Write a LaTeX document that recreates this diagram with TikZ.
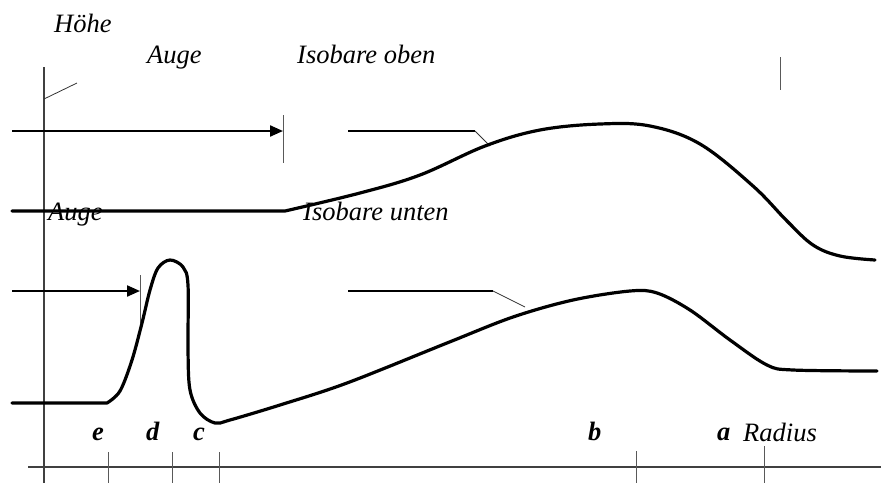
\documentclass[tikz,border=0pt]{standalone}
\usepackage{fontspec}
\setmainfont{Liberation Serif}
\usetikzlibrary{arrows.meta,positioning}

\tikzset{
  lbl/.style={anchor=base west, inner sep=0, font=\fontsize{26.5}{30}\selectfont\itshape},
  mark lbl/.style={lbl, font=\fontsize{26.5}{30}\selectfont\bfseries\itshape},
  axis line/.style={draw=black!75, line width=1.1pt},
  tick line/.style={draw=black!65, line width=1pt},
  eye arrow/.style={-{Triangle[length=13pt,width=11pt]}, line width=2.2pt},
  iso curve/.style={line width=3.2pt, line join=round, line cap=round},
  lead/.style={line width=2.2pt},
  pointer/.style={draw=black!80, line width=0.8pt},
}

\begin{document}
\begin{tikzpicture}[x=1pt, y=-1pt]
    \useasboundingbox (0,0) rectangle (881,483);

    % ======== AXES ========
    \coordinate (ytop) at (44,67);
    \coordinate (ybot) at (44,483);
    \coordinate (xl) at (28,467);
    \coordinate (xr) at (881,467);
    \draw[axis line] (ytop) -- (ybot);
    \draw[axis line] (xl) -- (xr);
    \coordinate (hoehe tip) at (44,99);
    \coordinate (hoehe end) at (77,83);
    \draw[pointer] (hoehe tip) -- (hoehe end);
    \node[lbl] (hoehe) at (54,32) {Höhe};

    % radius marks e, d, c, b, a
    \foreach \name/\tx/\lx/\top in {e/108/92/452, d/172/146/452, c/219/193/452,
                                    b/636/588/451, a/764/717/446} {
      \coordinate (t\name) at (\tx,\top);
      \coordinate (t\name') at (\tx,483);
      \draw[tick line] (t\name) -- (t\name');
      \node[mark lbl] (m\name) at (\lx,440) {\name};
    }
    \node[lbl] (radius) at (743,441) {Radius};

    % lone mark top right
    \coordinate (rt1) at (780,57);
    \coordinate (rt2) at (780,90);
    \draw[tick line] (rt1) -- (rt2);

    % ======== UPPER ISOBARE ========
    \node[lbl] (augeO) at (147,63) {Auge};
    \node[lbl] (isoO) at (297,63) {Isobare oben};
    \coordinate (eyeO start) at (12,131);
    \coordinate (eyeO) at (283,131);
    \coordinate (eyeO t1) at (283,115);
    \coordinate (eyeO t2) at (283,163);
    \draw[tick line] (eyeO t1) -- (eyeO t2);
    \draw[eye arrow] (eyeO start) -- (eyeO);
    \coordinate (leadO a) at (348,131);
    \coordinate (leadO b) at (475,131);
    \coordinate (leadO c) at (490,146);
    \draw[lead] (leadO a) -- (leadO b);
    \draw[pointer] (leadO b) -- (leadO c);
    \draw[iso curve] (12,211) -- plot[smooth, tension=0.6] coordinates {
      (285,211) (360,193) (420,175) (485,146) (540,130) (600,124) (650,126)
      (700,144) (753,186) (787,221) (813,245) (840,256) (875,260)};

    % ======== LOWER ISOBARE ========
    \node[lbl] (augeU) at (48,220) {Auge};
    \node[lbl] (isoU) at (303,220) {Isobare unten};
    \coordinate (eyeU start) at (12,291);
    \coordinate (eyeU) at (140,291);
    \coordinate (eyeU t1) at (140,275);
    \coordinate (eyeU t2) at (140,323);
    \draw[tick line] (eyeU t1) -- (eyeU t2);
    \draw[eye arrow] (eyeU start) -- (eyeU);
    \coordinate (leadU a) at (348,291);
    \coordinate (leadU b) at (493,291);
    \coordinate (leadU c) at (525,307);
    \draw[lead] (leadU a) -- (leadU b);
    \draw[pointer] (leadU b) -- (leadU c);
    \draw[iso curve] (12,403) -- plot[smooth, tension=0.55] coordinates {
      (107,403) (120,391) (132,360) (142,323) (150,290) (158,268) (170,260)
      (183,267) (188,285) (188,350) (190,390) (200,413) (215,423) (230,420)
      (280,405) (347,383) (447,343) (513,317) (573,300) (630,291) (657,293)
      (690,310) (730,340) (767,365) (793,370) (877,371)};

\end{tikzpicture}
\end{document}
